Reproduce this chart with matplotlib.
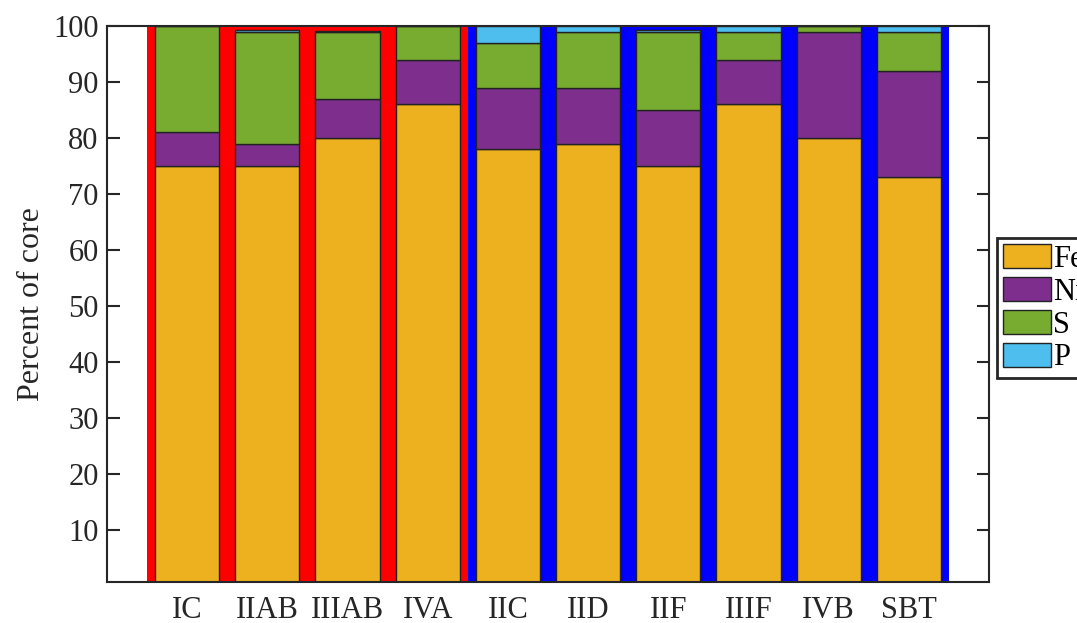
import numpy as np
import matplotlib.pyplot as plt

plt.rcParams['font.family'] = ['Liberation Serif', 'DejaVu Serif']

# ======================================
# Data
# ======================================

groups = ["IC", "IIAB", "IIIAB", "IVA", "IIC", "IID", "IIF", "IIIF", "IVB", "SBT"]
fe = [75, 75, 80, 86, 78, 79, 75, 86, 80, 73]
ni = [6, 4, 7, 8, 11, 10, 10, 8, 19, 19]
s = [19, 20, 12, 6, 8, 10, 14, 5, 1, 7]
p = [0, 0.3, 0.1, 0, 3, 1, 0.2, 1, 0, 1]
bg_colors = ["red"] * 4 + ["blue"] * 6   # background class per group

labels = ["Fe", "Ni", "S", "P"]
colors = ["#EDB120", "#7E2F8E", "#77AC30", "#4DBEEE"]

# ======================================
# Figure
# ======================================

fig = plt.figure(figsize=(10.77, 6.23), dpi=100)
ax = fig.add_axes([107 / 1077, 1 - 581.7 / 623, 882 / 1077, 555.7 / 623])

x = np.arange(1, len(groups) + 1)

# background bars
ax.bar(x, [100] * len(groups), width=1.0, color=bg_colors,
       linewidth=0, zorder=1)

# stacked bars
handles = []
bottom = np.zeros(len(groups))
for vals, lab, col in zip([fe, ni, s, p], labels, colors):
    h = ax.bar(x, vals, width=0.8, bottom=bottom, color=col,
               edgecolor="#222222", linewidth=1.0, label=lab, zorder=2)
    handles.append(h)
    bottom = bottom + np.array(vals)

ax.set_xlim(0, 11)
ax.set_ylim(0.8, 100)
ax.set_xticks(x)
ax.set_xticklabels(groups, fontsize=22)
ax.set_yticks(np.arange(10, 101, 10))
ax.tick_params(axis="y", direction="in", length=9, width=1.5, pad=6,
               labelsize=22, right=True, colors="#262626",
               labelcolor="#262626")
ax.tick_params(axis="x", length=0, pad=10, labelcolor="#262626")
for sp in ax.spines.values():
    sp.set_linewidth(1.5)
    sp.set_color("#262626")

ax.set_ylabel("Percent of core", fontsize=23, color="#262626", labelpad=5)

leg = fig.legend(handles=handles, labels=labels, loc="upper left",
                 bbox_to_anchor=(997 / 1077, 1 - 238 / 623),
                 fontsize=22, handlelength=1.57, handleheight=0.85,
                 handletextpad=0.07, labelspacing=0.1, borderpad=0.2,
                 borderaxespad=0, fancybox=False, framealpha=1)
leg.get_frame().set_edgecolor("#262626")
leg.get_frame().set_linewidth(2)

fig.savefig("out.png", dpi=100)
